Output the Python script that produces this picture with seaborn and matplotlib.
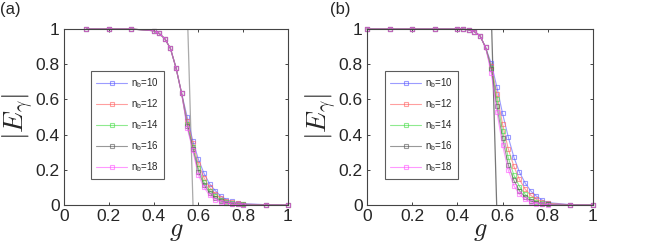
import matplotlib
matplotlib.use("Agg")
import matplotlib.pyplot as plt
import seaborn as sns

# ---- data ----
sizes = [10, 12, 14, 16, 18]
colors = ["#5a5aff", "#ff6060", "#44dd44", "#555555", "#ff55ff"]

# panel (a)
g_a_head = [0.1, 0.2, 0.3, 0.4, 0.425, 0.45, 0.475, 0.5, 0.525]
e_a_head = [1.0, 1.0, 1.0, 0.99, 0.975, 0.945, 0.89, 0.78, 0.635]
g_a_tail = [0.55, 0.575, 0.6, 0.625, 0.65, 0.675, 0.7, 0.725, 0.75, 0.775, 0.8, 0.9, 1.0]
e_a_tail = {
    10: [0.50, 0.365, 0.26, 0.18, 0.12, 0.082, 0.05, 0.03, 0.02, 0.013, 0.008, 0.002, 0.0],
    12: [0.48, 0.35, 0.235, 0.155, 0.10, 0.064, 0.04, 0.024, 0.015, 0.009, 0.005, 0.001, 0.0],
    14: [0.46, 0.33, 0.21, 0.13, 0.082, 0.05, 0.03, 0.017, 0.01, 0.006, 0.003, 0.0, 0.0],
    16: [0.45, 0.32, 0.19, 0.115, 0.07, 0.04, 0.022, 0.012, 0.007, 0.004, 0.002, 0.0, 0.0],
    18: [0.44, 0.31, 0.17, 0.10, 0.055, 0.03, 0.017, 0.009, 0.005, 0.003, 0.001, 0.0, 0.0],
}
cross_a_g = [0.553, 0.576]
cross_a_e = [1.0, 0.0]

# panel (b)
g_b_head = [0.0, 0.1, 0.2, 0.3, 0.4, 0.425, 0.45, 0.475, 0.5, 0.525]
e_b_head = [1.0, 1.0, 1.0, 1.0, 1.0, 1.0, 0.995, 0.985, 0.962, 0.895]
g_b_tail = [0.55, 0.575, 0.6, 0.625, 0.65, 0.675, 0.7, 0.725, 0.75, 0.775, 0.8, 0.9, 1.0]
e_b_tail = {
    10: [0.805, 0.67, 0.52, 0.388, 0.272, 0.186, 0.125, 0.08, 0.05, 0.028, 0.014, 0.002, 0.0],
    12: [0.79, 0.63, 0.46, 0.32, 0.22, 0.145, 0.09, 0.055, 0.032, 0.018, 0.01, 0.001, 0.0],
    14: [0.78, 0.60, 0.42, 0.27, 0.17, 0.105, 0.06, 0.033, 0.018, 0.009, 0.005, 0.0, 0.0],
    16: [0.77, 0.56, 0.38, 0.23, 0.14, 0.08, 0.045, 0.024, 0.012, 0.006, 0.003, 0.0, 0.0],
    18: [0.75, 0.53, 0.34, 0.20, 0.11, 0.06, 0.032, 0.016, 0.008, 0.004, 0.002, 0.0, 0.0],
}
cross_b_g = [0.552, 0.574]
cross_b_e = [1.0, 0.0]

sns.set_style("white")
plt.rcParams["font.family"] = ["Liberation Sans", "DejaVu Sans"]
plt.rcParams["mathtext.fontset"] = "cm"

fig = plt.figure(figsize=(6.53, 2.47), dpi=100)
ax_a = fig.add_axes([0.098, 0.170, 0.343, 0.7126])
ax_b = fig.add_axes([0.562, 0.170, 0.346, 0.7126])


def draw_panel(ax, g_head, e_head, g_tail, e_tail, cg, ce, cross_color, leg_anchor):
    ax.plot(cg, ce, color=cross_color, lw=0.9, zorder=1)
    for n, c in zip(sizes, colors):
        g = g_head + g_tail
        e = e_head + e_tail[n]
        sns.lineplot(x=g, y=e, ax=ax, color=c, alpha=0.6, lw=0.8,
                     marker="s", markersize=3.5, markerfacecolor="none",
                     markeredgecolor=c, markeredgewidth=0.8,
                     label=r"$\mathregular{n_b}$=%d" % n, clip_on=False)
    ax.set_xlim(0, 1)
    ax.set_ylim(0, 1)
    ax.set_xticks([0, 0.2, 0.4, 0.6, 0.8, 1])
    ax.set_yticks([0, 0.2, 0.4, 0.6, 0.8, 1])
    ax.set_xticklabels(["0", "0.2", "0.4", "0.6", "0.8", "1"])
    ax.set_yticklabels(["0", "0.2", "0.4", "0.6", "0.8", "1"])
    ax.tick_params(direction="in", length=2.5, width=0.6, labelsize=12.5,
                   top=True, right=True, bottom=True, left=True, pad=3)
    for s in ax.spines.values():
        s.set_color("#444444")
        s.set_linewidth(0.8)
    ax.set_xlabel(r"$g$", fontsize=19, labelpad=-4)
    ax.set_ylabel(r"$|E_\gamma|$", fontsize=20, labelpad=0)
    leg = ax.legend(loc="lower left", bbox_to_anchor=leg_anchor, fontsize=7,
                    frameon=True, fancybox=False, handlelength=3.2,
                    labelspacing=0.75, borderpad=0.5, handletextpad=0.4)
    leg.get_frame().set_edgecolor("#333333")
    leg.get_frame().set_linewidth(0.8)


draw_panel(ax_a, g_a_head, e_a_head, g_a_tail, e_a_tail, cross_a_g, cross_a_e,
           "#aaaaaa", (0.10, 0.12))
draw_panel(ax_b, g_b_head, e_b_head, g_b_tail, e_b_tail, cross_b_g, cross_b_e,
           "#777777", (0.06, 0.12))

fig.text(0.0, 0.99, "(a)", fontsize=12, va="top", ha="left")
fig.text(0.505, 0.99, "(b)", fontsize=12, va="top", ha="left")

fig.savefig("out.png", dpi=100)
